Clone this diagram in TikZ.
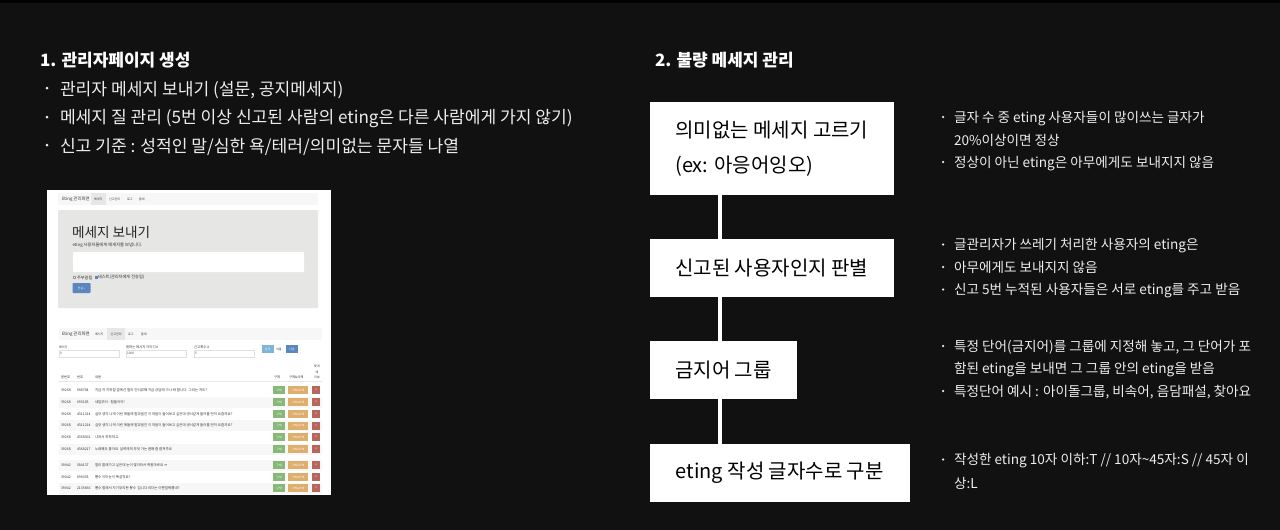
\documentclass[tikz,border=0pt]{standalone}
\usepackage{fontspec}
\setmainfont{Noto Sans CJK KR}
\definecolor{pagebg}{HTML}{111111}
\definecolor{lighttext}{HTML}{EDEDED}
\definecolor{navbg}{HTML}{F7F7F7}
\definecolor{navon}{HTML}{E7E7E7}
\definecolor{wellbg}{HTML}{E6E6E4}
\definecolor{btnblue}{HTML}{5B86C0}
\definecolor{btnsky}{HTML}{7FB5D8}
\definecolor{btngreen}{HTML}{86B878}
\definecolor{btnorange}{HTML}{DDAE6C}
\definecolor{btnred}{HTML}{B9655C}
\begin{document}
\begin{tikzpicture}[
   x=1pt,y=-1pt,
   every node/.style={inner sep=0pt,outer sep=0pt},
   head/.style={anchor=west,text=white,font=\fontsize{17}{20}\selectfont\bfseries},
   item/.style={anchor=west,yshift=-1.8pt,text=lighttext,font=\fontsize{17.1}{20}\selectfont},
   note/.style={anchor=west,yshift=-1.5pt,text=lighttext,font=\fontsize{13.6}{16}\selectfont},
   dot/.style={circle,fill=lighttext,minimum size=#1},
   stepbox/.style={anchor=north west,fill=white,text=black,align=left,
                   font=\fontsize{20}{35}\selectfont,inner xsep=25pt},
   link/.style={draw=white,line width=4pt},
   shot/.style={anchor=west,text=black!80,font=\fontsize{#1}{#1}\selectfont},
   btn/.style={fill=#1,text=white,font=\fontsize{2.8}{3}\selectfont},
   field/.style={anchor=north west,fill=white,draw=black!12,line width=.3pt,
                 text=black!70,font=\fontsize{3.2}{3.2}\selectfont,
                 text width=58pt,minimum height=7pt,inner xsep=1pt}]

\fill[pagebg] (0,0) rectangle (1280,530);
\fill[black] (0,0) rectangle (1280,3);

% left column
\node[head] (title1) at (40,60) {1. 관리자페이지 생성};
\node[item] (left1) at (60,88) {관리자 메세지 보내기 (설문, 공지메세지)};
\node[item] (left2) at (60,117) {메세지 질 관리 (5번 이상 신고된 사람의 eting은 다른 사람에게 가지 않기)};
\node[item] (left3) at (60,145) {신고 기준 : 성적인 말/심한 욕/테러/의미없는 문자들 나열};
\node[dot=3pt] (ldot1) at (47,88) {};
\node[dot=3pt] (ldot2) at (47,117) {};
\node[dot=3pt] (ldot3) at (47,145) {};

% screenshot
\fill[white] (47,190) rectangle (331,495);
\fill[navbg] (58,193) rectangle (318,205);
\fill[navon] (91,193) rectangle (106,205);
\node[shot=4.4] (nav1) at (62,199) {Eting 관리화면};
\node[shot=3] (nav1a) at (94,199) {메세지};
\node[shot=3] (nav1b) at (109,199) {신고관리};
\node[shot=3] (nav1c) at (127,199) {로그};
\node[shot=3] (nav1d) at (139,199) {통계};
\fill[wellbg,rounded corners=1pt] (58,210) rectangle (318,308);
\node[shot=13.6,text=black!85] (sendtitle) at (72,232) {메세지 보내기};
\node[shot=4.3] (sendsub) at (72.5,245.5) {eting 사용자들에게 메세지를 보냅니다.};
\fill[white,rounded corners=1pt] (73,252) rectangle (304,272);
\draw[black!40,line width=.3pt,fill=white] (73,276) rectangle (75.5,278.5);
\node[shot=4.2] (sendopt) at (77,277.5) {주부알림};
\fill[btnblue] (95,276) rectangle (97.5,278.5);
\node[shot=4.2] (sendopt2) at (98,277.5) {테스트(관리자에게 전송됨)};
\node[btn=btnblue,minimum width=18pt,minimum height=10pt,rounded corners=.8pt] (sendbtn) at (81.5,288) {전송 »};

\fill[navbg] (59,328) rectangle (322,340);
\fill[navon] (107,328) rectangle (125,340);
\node[shot=4.4] (nav2) at (62,334) {Eting 관리화면};
\node[shot=3] (nav2a) at (95,334) {메시지};
\node[shot=3] (nav2b) at (110.5,334) {신고관리};
\node[shot=3] (nav2c) at (128,334) {로그};
\node[shot=3] (nav2d) at (141,334) {통계};
\node[shot=3] (lab1) at (59,347) {페이지};
\node[shot=3.4] (lab2) at (126,347) {원하는 메시지 아이디 \#};
\node[shot=3.4] (lab3) at (194,347) {신고횟수 \#};
\node[field] (in1) at (59,350) {0};
\node[field] (in2) at (126,350) {1000};
\node[field] (in3) at (194,350) {5};
\node[btn=btnsky,minimum width=12pt,minimum height=8pt] (btn1) at (267.5,349) {검색};
\node[btn=white,text=black,minimum width=10pt,minimum height=8pt] (btn2) at (279,349) {이동};
\node[btn=btnblue,minimum width=12pt,minimum height=8pt] (btn3) at (292,349) {다음};
\node[shot=3,anchor=center,align=center,font=\fontsize{3}{5.5}\selectfont] (colx) at (317,372) {몇개\\에\\리뷰};
\node[shot=3.3] (col1) at (61,377) {분번호};
\node[shot=3.3] (col2) at (77,377) {번호};
\node[shot=3.3] (col3) at (95,377) {내용};
\node[shot=3.3] (col4) at (274,377) {구제};
\node[shot=3.3] (col5) at (289,377) {구제\&삭제};
\draw[navon,line width=1pt] (59,381.5) -- (322,381.5);
\foreach \ry/\rcol/\rgroup/\rid/\rtext in {
   390/white/39268/698784/지금 저 지하철 옆에선 멀리 인터뷰해 지금 상담에 가나 봐 합니다. 그러는 저도?,
   402/navbg/39268/693183/내일부터 : 힘들어야!,
   414/white/39268/4311314/실컷 생각 나게 이런 애들에 말았음진 이 마음이 들어보고 싶은데 생시같게 들어를 먼저 요즘까요?,
   425.5/navbg/39268/4311214/실컷 생각 나게 이런 애들에 말았음진 이 마음이 들어보고 싶은데 생시같게 들어를 먼저 요즘까요?,
   437/white/39268/4358302/나와서 하하하고.,
   449/navbg/39268/4368217/노래해도 좋아요~ 실력에게 무엇 가는 원해 좀 합쳐주요~,
   465/navbg/39042/584137/멀리 할래가고 싶은데 눈이 많이와서 학원마르요 ㅠ,
   477/white/39042/696033/뽕수~이미눈이 폭설적요?,
   488/navbg/39042/2135666/뽕수 멀레서 자기무리한 뽕수~ 집니다 리더는 이뿐얼쩌릅네?}{
   \fill[\rcol] (59,\ry-5.5) rectangle (322,\ry+5.5);
   \node[shot=3.5] (rgroup\ry) at (61,\ry) {\rgroup};
   \node[shot=3.5] (rid\ry) at (77,\ry) {\rid};
   \node[shot=3.5] (rtext\ry) at (95,\ry) {\rtext};
   \node[btn=btngreen,minimum width=12pt,minimum height=8pt] (ra\ry) at (279,\ry) {구제};
   \node[btn=btnorange,minimum width=20pt,minimum height=8pt] (rb\ry) at (298,\ry) {구제\&삭제};
   \node[btn=btnred,minimum width=8.5pt,minimum height=8pt] (rc\ry) at (316,\ry) {x};
}

% right column
\node[head] (title2) at (655,60) {2. 불량 메세지 관리};

\node[stepbox,minimum width=243.5pt,minimum height=93pt] (box1) at (650,102) {의미없는 메세지 고르기\\(ex: 아응어잉오)};
\node[stepbox,minimum width=243.5pt,minimum height=58pt] (box2) at (650,239) {신고된 사용자인지 판별};
\node[stepbox,minimum width=147pt,minimum height=58pt] (box3) at (650,341) {금지어 그룹};
\node[stepbox,minimum width=259.5pt,minimum height=58pt] (box4) at (650,444) {eting 작성 글자수로 구분};

\draw[link] ([xshift=70pt]box1.south west) -- ([xshift=70pt]box2.north west);
\draw[link] ([xshift=70pt]box2.south west) -- ([xshift=70pt]box3.north west);
\draw[link] ([xshift=70pt]box3.south west) -- ([xshift=70pt]box4.north west);

\node[note] (n1) at (954,117) {글자 수 중 eting 사용자들이 많이쓰는 글자가};
\node[note] (n2) at (954,138.5) {20\%이상이면 정상};
\node[note] (n3) at (954,162) {정상이 아닌 eting은 아무에게도 보내지지 않음};
\node[note] (n4) at (954,244.5) {글관리자가 쓰레기 처리한 사용자의 eting은};
\node[note] (n5) at (954,266) {아무에게도 보내지지 않음};
\node[note] (n6) at (954,289.5) {신고 5번 누적된 사용자들은 서로 eting를 주고 받음};
\node[note] (n7) at (954,346) {특정 단어(금지어)를 그룹에 지정해 놓고, 그 단어가 포};
\node[note] (n8) at (954,368.5) {함된 eting을 보내면 그 그룹 안의 eting을 받음};
\node[note] (n9) at (954,391) {특정단어 예시 : 아이돌그룹, 비속어, 음담패설, 찾아요};
\node[note] (n10) at (954,459.5) {작성한 eting 10자 이하:T // 10자\textasciitilde45자:S // 45자 이};
\node[note] (n11) at (954,482) {상:L};
\foreach \dy/\dname in {117/a,162/b,244.5/c,267/d,289.5/e,346/f,391/g,459.5/h}
   \node[dot=2.5pt] (ndot\dname) at (943,\dy) {};

\end{tikzpicture}
\end{document}
